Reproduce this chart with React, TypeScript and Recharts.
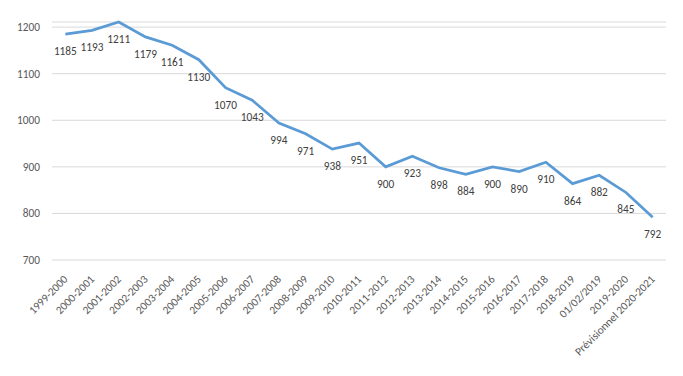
import React from "react";
import { LineChart, Line, XAxis, YAxis, CartesianGrid, LabelList } from "recharts";

const categories = [
  "1999-2000", "2000-2001", "2001-2002", "2002-2003", "2003-2004", "2004-2005",
  "2005-2006", "2006-2007", "2007-2008", "2008-2009", "2009-2010", "2010-2011",
  "2011-2012", "2012-2013", "2013-2014", "2014-2015", "2015-2016", "2016-2017",
  "2017-2018", "2018-2019", "01/02/2019", "2019-2020", "Prévisionnel 2020-2021",
];
const values = [
  1185, 1193, 1211, 1179, 1161, 1130, 1070, 1043, 994, 971, 938, 951,
  900, 923, 898, 884, 900, 890, 910, 864, 882, 845, 792,
];
const yTicks = [700, 800, 900, 1000, 1100, 1200];

const data = categories.map((c, i) => ({ name: c, value: values[i] }));

const FONT = "Calibri, Carlito, 'Liberation Sans', Arial, sans-serif";

const XTick = (props: any) => {
  const { x, y, payload } = props;
  return (
    <text
      x={x + 3}
      y={y + 14}
      transform={`rotate(-45, ${x + 3}, ${y + 14})`}
      textAnchor="end"
      fontSize={11.3}
      fontFamily={FONT}
      fill="#595959"
    >
      {payload.value}
    </text>
  );
};

const YTick = (props: any) => {
  const { y, payload } = props;
  return (
    <text x={32} y={y} dy={4} textAnchor="end" fontSize={11.3} fontFamily={FONT} fill="#595959">
      {payload.value}
    </text>
  );
};

const ValueLabel = (props: any) => {
  const { x, y, value } = props;
  return (
    <text x={x} y={y + 21} textAnchor="middle" fontSize={11.3} fontFamily={FONT} fill="#404040">
      {value}
    </text>
  );
};

export default function App() {
  return (
    <div style={{ width: 675, height: 368 }}>
      <LineChart
        width={675}
        height={368}
        data={data}
        margin={{ top: 14, right: 17, bottom: 0, left: 0 }}
      >
        <CartesianGrid horizontal vertical={false} stroke="#d9d9d9" strokeWidth={1} />
        <XAxis
          dataKey="name"
          scale="band"
          axisLine={false}
          tickLine={false}
          interval={0}
          height={116}
          tick={<XTick />}
          tickSize={0}
          tickMargin={6}
        />
        <YAxis
          domain={[700, 1200]}
          ticks={yTicks}
          axisLine={false}
          tickLine={false}
          width={44}
          tickSize={0}
          tickMargin={0}
          tick={<YTick />}
        />
        <Line
          type="linear"
          dataKey="value"
          stroke="#5B9BD5"
          strokeWidth={2.75}
          dot={false}
          isAnimationActive={false}
        >
          <LabelList dataKey="value" content={<ValueLabel />} />
        </Line>
      </LineChart>
    </div>
  );
}
